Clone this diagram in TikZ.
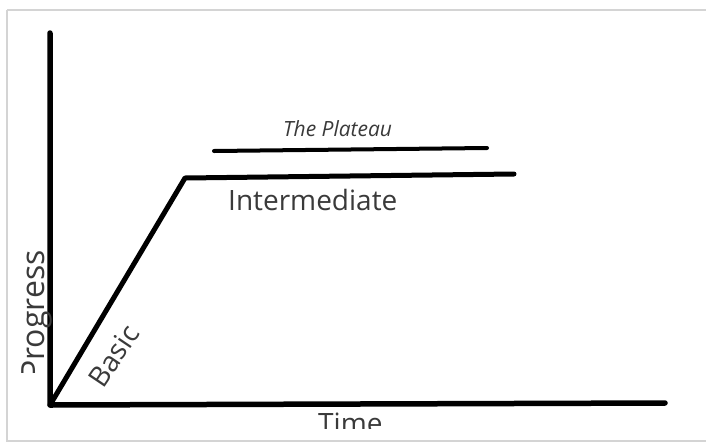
\documentclass[tikz,border=0pt]{standalone}
\usepackage{fontspec}
\setmainfont{Open Sans}
\definecolor{txt}{HTML}{3A3A3A}
\definecolor{frame}{HTML}{D4D4D4}
\tikzset{
  axisline/.style={line width=5.5pt, line cap=round, line join=round, black},
  curveline/.style={line width=5pt, line cap=round, line join=round, black},
  plateauline/.style={line width=4pt, line cap=round, black},
  lbl/.style={inner sep=0pt, text=txt, font=\fontsize{28}{30}\selectfont},
}
\begin{document}
\begin{tikzpicture}[x=1pt,y=-1pt]
\useasboundingbox (0,0) rectangle (706,445);
\fill[white] (0,0) rectangle (706,445);
% frame
\draw[frame, line width=2pt] (7,10) -- (712,10);
\draw[frame, line width=2pt] (7,10) -- (7,441) -- (712,441);
% coordinates
\coordinate (top) at (50,33);
\coordinate (origin) at (50,405);
\coordinate (xend) at (665,403);
\coordinate (corner) at (185,178);
\coordinate (iend) at (514,174);
\coordinate (pstart) at (214,151);
\coordinate (pend) at (487,148);
% axes
\draw[axisline] (top) -- (origin) -- (xend);
% growth curve
\draw[curveline] (origin) -- (corner) -- (iend);
% plateau
\draw[plateauline] (pstart) -- (pend);
% labels
\node[lbl, anchor=base west] (inter) at (228,210) {Intermediate};
\node[inner sep=0pt, text=txt, anchor=base west, font=\fontsize{21}{23}\selectfont\itshape] (plat) at (283,136) {The Plateau};
\node[lbl, anchor=base west, rotate=56] (basic) at (103,390) {Basic};
\begin{scope}
\clip (0,0) rectangle (706,372);
\node[lbl, anchor=base west, rotate=90, font=\fontsize{32}{34}\selectfont] (prog) at (44,380) {Progress};
\end{scope}
\begin{scope}
\clip (0,0) rectangle (706,428);
\node[lbl, anchor=base west] (time) at (318,433) {Time};
\end{scope}
\end{tikzpicture}
\end{document}
